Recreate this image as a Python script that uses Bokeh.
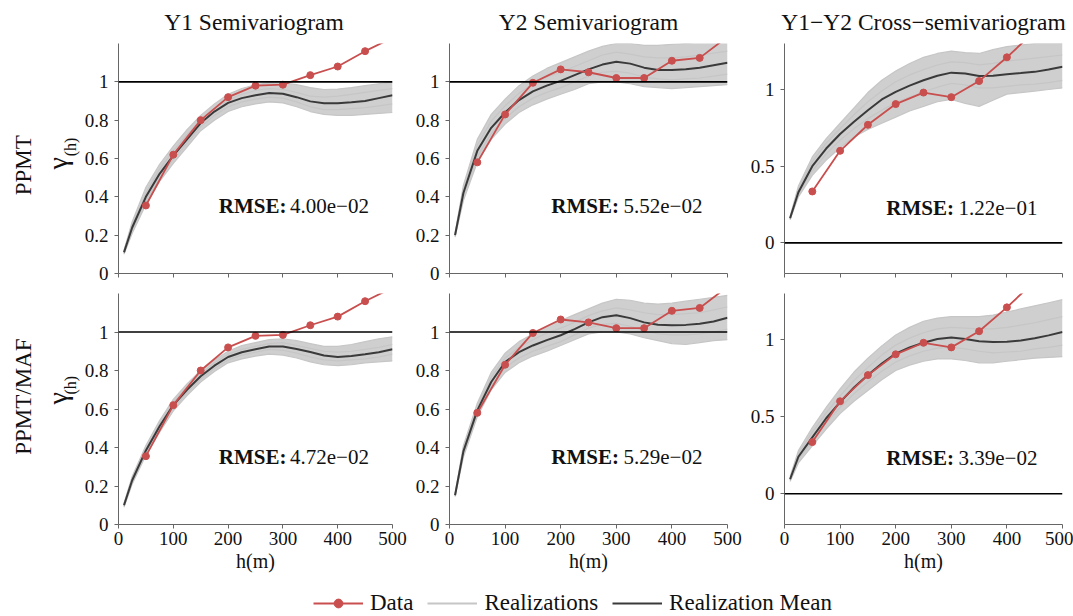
import numpy as np
from bokeh.plotting import figure
from bokeh.models import (Span, Label, Legend, LegendItem, FixedTicker,
                          CustomJSTickFormatter, Range1d)
from bokeh.layouts import column, row
from bokeh.embed import file_html
from bokeh.resources import INLINE

FONT = "Liberation Serif"
RED = "#c94e4e"
GRAY = "#cfcfcf"
LINEGRAY = "#c6c6c6"
MEAN = "#3a3a3a"

# ---------------- data ----------------
h = [10, 25, 50, 75, 100, 125, 150, 175, 200, 225, 250, 275, 300, 325, 350, 375, 400, 425, 450, 475, 500]
data_h = [50, 100, 150, 200, 250, 300, 350, 400, 450, 500]

y1_data = [0.355, 0.62, 0.80, 0.92, 0.98, 0.985, 1.035, 1.08, 1.16, 1.23]
y2_data = [0.58, 0.83, 0.995, 1.065, 1.05, 1.02, 1.02, 1.11, 1.125, 1.235]
cross_data = [0.335, 0.60, 0.77, 0.905, 0.98, 0.95, 1.055, 1.21, 1.38]

# Row 1: PPMT
y1_ppmt_real = [
    [0.12, 0.27, 0.45, 0.57, 0.665, 0.75, 0.825, 0.885, 0.935, 0.965, 0.985, 0.995, 0.995, 0.985, 0.97, 0.96, 0.962, 0.97, 0.98, 0.99, 1.0],
    [0.115, 0.255, 0.42, 0.545, 0.64, 0.725, 0.80, 0.86, 0.905, 0.935, 0.955, 0.965, 0.96, 0.945, 0.925, 0.92, 0.925, 0.935, 0.945, 0.955, 0.965],
    [0.105, 0.225, 0.38, 0.50, 0.595, 0.68, 0.765, 0.825, 0.87, 0.895, 0.91, 0.92, 0.915, 0.895, 0.87, 0.855, 0.855, 0.86, 0.865, 0.875, 0.885],
    [0.10, 0.21, 0.36, 0.48, 0.575, 0.66, 0.745, 0.80, 0.845, 0.87, 0.885, 0.895, 0.89, 0.87, 0.845, 0.83, 0.825, 0.825, 0.83, 0.835, 0.84],
]
y1_ppmt_mean = [0.11, 0.24, 0.40, 0.52, 0.615, 0.70, 0.785, 0.845, 0.89, 0.915, 0.93, 0.942, 0.938, 0.92, 0.898, 0.888, 0.888, 0.893, 0.90, 0.915, 0.93]

y2_ppmt_real = [
    [0.21, 0.46, 0.70, 0.83, 0.91, 0.98, 1.03, 1.07, 1.10, 1.13, 1.16, 1.185, 1.20, 1.20, 1.19, 1.19, 1.195, 1.20, 1.21, 1.22, 1.22],
    [0.205, 0.44, 0.67, 0.795, 0.875, 0.94, 0.99, 1.025, 1.05, 1.08, 1.11, 1.14, 1.155, 1.145, 1.13, 1.125, 1.125, 1.13, 1.14, 1.15, 1.16],
    [0.195, 0.40, 0.61, 0.73, 0.81, 0.87, 0.915, 0.945, 0.97, 1.0, 1.03, 1.05, 1.055, 1.045, 1.025, 1.015, 1.01, 1.015, 1.02, 1.03, 1.04],
    [0.19, 0.38, 0.58, 0.70, 0.78, 0.84, 0.88, 0.91, 0.935, 0.96, 0.99, 1.0, 1.0, 0.99, 0.975, 0.97, 0.965, 0.97, 0.975, 0.98, 0.985],
]
y2_ppmt_mean = [0.20, 0.42, 0.64, 0.76, 0.84, 0.905, 0.95, 0.98, 1.005, 1.035, 1.065, 1.09, 1.105, 1.095, 1.074, 1.062, 1.062, 1.066, 1.074, 1.087, 1.10]

cross_ppmt_real = [
    [0.17, 0.37, 0.56, 0.68, 0.78, 0.88, 0.98, 1.06, 1.12, 1.17, 1.21, 1.235, 1.25, 1.24, 1.235, 1.26, 1.28, 1.29, 1.30, 1.30, 1.30],
    [0.165, 0.35, 0.53, 0.65, 0.745, 0.835, 0.92, 0.99, 1.05, 1.095, 1.13, 1.16, 1.18, 1.175, 1.16, 1.17, 1.185, 1.195, 1.205, 1.215, 1.225],
    [0.155, 0.315, 0.47, 0.58, 0.67, 0.745, 0.81, 0.865, 0.915, 0.95, 0.985, 1.015, 1.04, 1.03, 1.01, 1.01, 1.02, 1.03, 1.035, 1.045, 1.06],
    [0.15, 0.30, 0.44, 0.54, 0.62, 0.69, 0.74, 0.78, 0.82, 0.86, 0.89, 0.92, 0.935, 0.91, 0.89, 0.93, 0.97, 0.98, 0.99, 1.0, 1.01],
]
cross_ppmt_mean = [0.16, 0.33, 0.50, 0.615, 0.71, 0.79, 0.865, 0.935, 0.985, 1.025, 1.06, 1.09, 1.11, 1.105, 1.088, 1.09, 1.10, 1.107, 1.115, 1.13, 1.148]

# Row 2: PPMT/MAF
y1_maf_real = [
    [0.11, 0.25, 0.41, 0.54, 0.65, 0.73, 0.80, 0.855, 0.90, 0.93, 0.945, 0.96, 0.965, 0.955, 0.94, 0.925, 0.925, 0.935, 0.95, 0.965, 0.975],
    [0.105, 0.24, 0.395, 0.525, 0.635, 0.715, 0.785, 0.84, 0.885, 0.91, 0.925, 0.94, 0.945, 0.93, 0.915, 0.90, 0.895, 0.90, 0.91, 0.92, 0.935],
    [0.095, 0.22, 0.375, 0.495, 0.605, 0.685, 0.755, 0.81, 0.855, 0.88, 0.895, 0.91, 0.905, 0.89, 0.87, 0.855, 0.85, 0.855, 0.86, 0.87, 0.885],
    [0.09, 0.21, 0.36, 0.48, 0.59, 0.67, 0.74, 0.795, 0.84, 0.86, 0.875, 0.885, 0.88, 0.865, 0.845, 0.83, 0.825, 0.83, 0.84, 0.845, 0.85],
]
y1_maf_mean = [0.10, 0.23, 0.385, 0.51, 0.62, 0.70, 0.77, 0.825, 0.87, 0.895, 0.91, 0.925, 0.925, 0.912, 0.896, 0.878, 0.87, 0.875, 0.884, 0.895, 0.91]

y2_maf_real = [
    [0.16, 0.41, 0.63, 0.79, 0.89, 0.95, 0.99, 1.03, 1.06, 1.09, 1.12, 1.15, 1.17, 1.165, 1.15, 1.145, 1.15, 1.16, 1.17, 1.18, 1.19],
    [0.155, 0.395, 0.61, 0.765, 0.865, 0.92, 0.96, 0.995, 1.02, 1.05, 1.085, 1.11, 1.125, 1.115, 1.10, 1.09, 1.09, 1.095, 1.10, 1.115, 1.13],
    [0.15, 0.365, 0.575, 0.72, 0.815, 0.865, 0.90, 0.925, 0.95, 0.985, 1.02, 1.04, 1.045, 1.03, 1.005, 0.99, 0.985, 0.985, 0.99, 1.0, 1.015],
    [0.145, 0.35, 0.56, 0.70, 0.79, 0.84, 0.875, 0.90, 0.93, 0.96, 0.99, 1.0, 1.0, 0.99, 0.97, 0.955, 0.94, 0.935, 0.945, 0.955, 0.96],
]
y2_maf_mean = [0.152, 0.38, 0.593, 0.74, 0.844, 0.895, 0.93, 0.958, 0.983, 1.015, 1.05, 1.077, 1.087, 1.072, 1.05, 1.038, 1.035, 1.037, 1.043, 1.055, 1.074]

cross_maf_real = [
    [0.11, 0.28, 0.43, 0.56, 0.68, 0.79, 0.88, 0.96, 1.03, 1.08, 1.12, 1.14, 1.15, 1.15, 1.15, 1.16, 1.18, 1.20, 1.22, 1.24, 1.26],
    [0.10, 0.26, 0.40, 0.525, 0.635, 0.735, 0.82, 0.90, 0.965, 1.01, 1.045, 1.07, 1.08, 1.075, 1.07, 1.07, 1.08, 1.095, 1.11, 1.13, 1.15],
    [0.09, 0.225, 0.34, 0.46, 0.56, 0.65, 0.725, 0.795, 0.855, 0.895, 0.925, 0.945, 0.95, 0.94, 0.925, 0.915, 0.92, 0.925, 0.94, 0.95, 0.965],
    [0.08, 0.20, 0.31, 0.42, 0.52, 0.60, 0.67, 0.74, 0.80, 0.835, 0.86, 0.875, 0.875, 0.865, 0.85, 0.85, 0.86, 0.87, 0.88, 0.885, 0.89],
]
cross_maf_mean = [0.094, 0.24, 0.366, 0.49, 0.595, 0.69, 0.77, 0.845, 0.91, 0.95, 0.98, 1.005, 1.015, 1.005, 0.99, 0.985, 0.987, 0.995, 1.009, 1.028, 1.05]

titles = ["Y1 Semivariogram", "Y2 Semivariogram", "Y1\u2212Y2 Cross\u2212semivariogram"]
row_labels = ["PPMT", "PPMT/MAF"]
rmse = [["4.00e\u221202", "5.52e\u221202", "1.22e\u221201"],
        ["4.72e\u221202", "5.29e\u221202", "3.39e\u221202"]]
legend_labels = ["Data", "Realizations", "Realization Mean"]
x_ticks = [0, 100, 200, 300, 400, 500]
y_ticks_semi = [0, 0.2, 0.4, 0.6, 0.8, 1.0]
y_ticks_cross = [0, 0.5, 1.0]

panels = [
    [(y1_ppmt_real, y1_ppmt_mean, y1_data), (y2_ppmt_real, y2_ppmt_mean, y2_data), (cross_ppmt_real, cross_ppmt_mean, cross_data)],
    [(y1_maf_real, y1_maf_mean, y1_data), (y2_maf_real, y2_maf_mean, y2_data), (cross_maf_real, cross_maf_mean, cross_data)],
]

fmt = CustomJSTickFormatter(code="return String(Math.round(tick*100)/100);")
blank_fmt = CustomJSTickFormatter(code="return '';")

TOTAL_W = 1073
TITLE_H = 43
LABW = 81
widths = [329, 335, 328]
lefts = [34, 39, 39]
rights = [18, 18, 11]
heights = [240, 300]
tops = [0, 10]
bottoms = [10, 59]
row_top = [TITLE_H, 283]   # page y where each row strip starts

# ---------- title strip ----------
tf = figure(width=TOTAL_W, height=TITLE_H, x_range=Range1d(0, TOTAL_W), y_range=Range1d(0, TITLE_H),
            toolbar_location=None, output_backend="svg", min_border=0,
            x_axis_location=None, y_axis_location=None)
tf.outline_line_color = None
tf.grid.visible = False
frame_centers = [253.5, 588, 923]
for ci in range(3):
    tf.add_layout(Label(x=frame_centers[ci], y=TITLE_H - 21, text=titles[ci], text_align="center",
                        text_baseline="middle", text_font=FONT, text_font_size="23.5px",
                        text_color="#111111"))


def label_strip(ri):
    H = heights[ri]
    off = row_top[ri]
    f = figure(width=LABW, height=H, x_range=Range1d(0, LABW), y_range=Range1d(0, H),
               toolbar_location=None, output_backend="svg", min_border=0,
               x_axis_location=None, y_axis_location=None)
    f.outline_line_color = None
    f.grid.visible = False
    if ri == 0:
        ppmt_py, g_py, h_py = 170, 168, 151
    else:
        ppmt_py, g_py, h_py = 417, 419, 402
    f.add_layout(Label(x=23, y=H - (ppmt_py - off), text=row_labels[ri], angle=np.pi / 2,
                       text_align="center", text_baseline="middle", text_font=FONT,
                       text_font_size="23px", text_color="#111111"))
    f.add_layout(Label(x=57, y=H - (g_py - off), text="\u03b3", angle=np.pi / 2, text_align="center",
                       text_baseline="middle", text_font=FONT, text_font_size="28px",
                       text_color="#111111"))
    f.add_layout(Label(x=70, y=H - (h_py - off), text="(h)", angle=np.pi / 2, text_align="center",
                       text_baseline="middle", text_font=FONT, text_font_size="16px",
                       text_color="#111111"))
    return f


rows = []
for ri in range(2):
    figs = [label_strip(ri)]
    for ci in range(3):
        real, mean, dat = panels[ri][ci]
        cross = ci == 2
        yr = Range1d(-0.2, 1.3) if cross else Range1d(0, 1.2)
        p = figure(width=widths[ci], height=heights[ri], x_range=Range1d(0, 500), y_range=yr,
                   toolbar_location=None, output_backend="svg",
                   min_border_left=lefts[ci], min_border_right=rights[ci],
                   min_border_top=tops[ri], min_border_bottom=bottoms[ri])
        p.outline_line_color = None
        p.grid.visible = False
        for ax in (p.xaxis[0], p.yaxis[0]):
            ax.axis_line_color = "#666666"
            ax.major_tick_line_color = "#666666"
            ax.minor_tick_line_color = None
            ax.major_tick_in = 0
            ax.major_tick_out = 4
            ax.major_label_text_font = FONT
            ax.major_label_text_font_size = "19px"
            ax.major_label_text_color = "#111111"
            ax.formatter = fmt
        p.xaxis.ticker = FixedTicker(ticks=x_ticks)
        p.yaxis.ticker = FixedTicker(ticks=y_ticks_cross if cross else y_ticks_semi)
        p.yaxis.major_label_standoff = 6
        p.xaxis.major_label_standoff = 3
        if ri == 0:
            p.xaxis.formatter = blank_fmt
            p.xaxis.major_label_text_font_size = "1px"
            p.xaxis.major_label_standoff = 0
        else:
            p.xaxis.axis_label = "h(m)"
            p.xaxis.axis_label_text_font = FONT
            p.xaxis.axis_label_text_font_size = "20px"
            p.xaxis.axis_label_text_font_style = "normal"
            p.xaxis.axis_label_standoff = 2
            p.xaxis.axis_label_text_color = "#111111"

        arr = np.array(real)
        p.varea(x=h, y1=arr.min(axis=0), y2=arr.max(axis=0), fill_color=GRAY, fill_alpha=1.0)
        p.multi_line(xs=[h] * len(real), ys=real, line_color=LINEGRAY, line_width=1.2)
        p.line(h, mean, line_color=MEAN, line_width=2)
        p.add_layout(Span(location=0 if cross else 1, dimension="width", line_color="black", line_width=1.6))
        p.line(data_h[:len(dat)], dat, line_color=RED, line_width=1.8)
        p.scatter(data_h[:len(dat)], dat, color=RED, size=7)

        if cross:
            ry = 0.23 if ri == 0 else 0.235
        else:
            ry = 0.35 if ri == 0 else 0.352
        p.add_layout(Label(x=183, y=ry, text="RMSE:", text_font=FONT, text_font_size="21px",
                           text_font_style="bold", text_baseline="middle", text_color="#111111"))
        p.add_layout(Label(x=313, y=ry, text=rmse[ri][ci], text_font=FONT, text_font_size="21px",
                           text_baseline="middle", text_color="#111111"))
        figs.append(p)
    rows.append(row(*figs))

# legend strip (placeholder renderers carry no visible data)
nan = float("nan")
lf = figure(width=TOTAL_W, height=33, toolbar_location=None, output_backend="svg",
            x_range=Range1d(0, 1), y_range=Range1d(0, 1), min_border=0,
            x_axis_location=None, y_axis_location=None)
lf.outline_line_color = None
lf.grid.visible = False
r1 = lf.line(x=[nan], y=[nan], line_color=RED, line_width=1.8)
r2 = lf.scatter(x=[nan], y=[nan], color=RED, size=7)
r3 = lf.line(x=[nan], y=[nan], line_color=LINEGRAY, line_width=1.8)
r4 = lf.line(x=[nan], y=[nan], line_color=MEAN, line_width=2)
leg = Legend(items=[LegendItem(label=legend_labels[0], renderers=[r1, r2]),
                    LegendItem(label=legend_labels[1], renderers=[r3]),
                    LegendItem(label=legend_labels[2], renderers=[r4])],
             orientation="horizontal", location=(313, 0), padding=0, margin=0,
             glyph_width=50, glyph_height=22, label_standoff=7, spacing=14,
             label_text_font=FONT, label_text_font_size="23px", label_text_color="#111111",
             border_line_color=None, background_fill_alpha=0)
lf.add_layout(leg, "center")

layout = column(tf, rows[0], rows[1], lf)
open("out.html", "w").write(file_html(layout, INLINE))
